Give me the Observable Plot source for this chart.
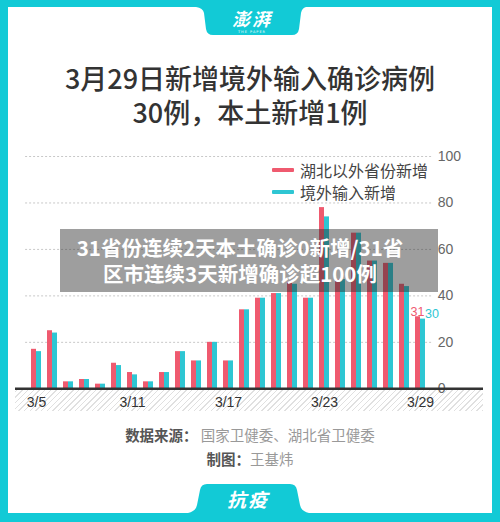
<!DOCTYPE html>
<html>
<head>
<meta charset="utf-8">
<script src="https://cdn.jsdelivr.net/npm/d3@7"></script>
<script src="https://cdn.jsdelivr.net/npm/@observablehq/plot@0.6"></script>
<style>
  html, body { margin: 0; padding: 0; }
  body { width: 500px; height: 522px; overflow: hidden; font-family: "Noto Sans CJK SC", "Noto Sans", sans-serif; }
  #page { position: relative; width: 500px; height: 522px; background: #12cad6; }
  #card { position: absolute; left: 8px; top: 7px; width: 484px; height: 506px; background: #fff; }
  .abs { position: absolute; }
  .title { left: 0; width: 500px; text-align: center; font-size: 27px; line-height: 30px; height: 30px; color: #333; font-weight: 500; white-space: nowrap; }
  #title1 { top: 63px; }
  #title2 { top: 97px; }
  #legend { left: 272px; top: 159px; font-size: 16px; color: #444; }
  #legend .row { display: flex; align-items: center; height: 21.7px; }
  #legend .sw { width: 22px; height: 4px; margin-right: 6px; border-radius: 1px; }
  #hatch { left: 15px; top: 389px; width: 468px; height: 22px;
    background: repeating-linear-gradient(-45deg, #e0e0e0 0 1px, #fff 1px 4px); }
  #chart { position: absolute; left: 15px; top: 140px; }
  #chart svg { overflow: visible; }
  #chart g[aria-label^="y-axis"] text { fill: #666; font-size: 14px; }
  #chart g[aria-label^="x-axis"] text { fill: #333; font-size: 14px; }
  #band { left: 60px; top: 229px; width: 378px; height: 63px; background: rgba(40,40,40,0.45); }
  .bandText { left: 55px; width: 370px; text-align: center; color: #fff; font-weight: 700; font-size: 20.5px; line-height: 24px; height: 24px; white-space: nowrap; }
  #band1 { top: 234.7px; }
  #band2 { top: 261.2px; }
  #source { left: 0; width: 500px; top: 425px; text-align: center; font-size: 14.5px; line-height: 20px; color: #999; }
  #credit { left: 0; width: 500px; top: 449px; text-align: center; font-size: 14.5px; line-height: 20px; color: #999; }
  b { color: #555; font-weight: 700; }
  #logo { left: 200px; width: 104px; top: 9px; text-align: center; color: #fff; font-size: 18px; font-weight: 700; font-style: italic; line-height: 18px; height: 18px; letter-spacing: 2px; }
  #logoSub { left: 200px; width: 104px; top: 29.5px; text-align: center; color: #fff; font-size: 3.5px; line-height: 4px; letter-spacing: 1px; font-family: "DejaVu Sans"; }
  #tag { left: 198px; width: 100px; top: 487px; text-align: center; color: #fff; font-size: 19px; font-weight: 700; font-style: italic; line-height: 24px; letter-spacing: 2px; }
</style>
</head>
<body>
<div id="page">
  <div id="card"></div>
  <svg class="abs" style="left:0;top:0" width="500" height="522">
    <path d="M196,7 L306,7 Q302,8 301,13 L299,29 Q298,35 292,35 L213,35 Q207,35 206,29 L204,13 Q203,8 196,7 Z" fill="#12cad6"/>
    <path d="M188,513 Q196,511 197,505 L200,490 Q201,484 207,484 L290,484 Q296,484 297,490 L300,505 Q301,511 309,513 Z" fill="#12cad6"/>
  </svg>
  <div id="logo" class="abs">澎湃</div>
  <div id="logoSub" class="abs">THE PAPER</div>
  <div id="title1" class="abs title">3月29日新增境外输入确诊病例</div>
  <div id="title2" class="abs title">30例，本土新增1例</div>
  <div id="hatch" class="abs"></div>
  <div id="chart"></div>
  <div id="legend" class="abs"></div>
  <div id="band" class="abs"></div>
  <div id="band1" class="abs bandText">31省份连续2天本土确诊0新增/31省</div>
  <div id="band2" class="abs bandText">区市连续3天新增确诊超100例</div>
  <div id="source" class="abs"><b>数据来源：</b> 国家卫健委、湖北省卫健委</div>
  <div id="credit" class="abs"><b>制图：</b>王基炜</div>
  <div id="tag" class="abs">抗疫</div>
</div>
<script>
// ---- data ----
const dates = ["3/5","3/6","3/7","3/8","3/9","3/10","3/11","3/12","3/13","3/14","3/15","3/16","3/17",
               "3/18","3/19","3/20","3/21","3/22","3/23","3/24","3/25","3/26","3/27","3/28","3/29"];
const outsideHubei = [17,25,3,4,2,11,7,3,7,16,12,20,12,34,39,41,46,39,78,47,67,55,54,45,31];
const imported     = [16,24,3,4,2,10,6,3,7,16,12,20,12,34,39,41,45,39,74,47,67,55,54,44,30];
const seriesNames = ["湖北以外省份新增", "境外输入新增"];
const xTicks = ["3/5","3/11","3/17","3/23","3/29"];
const yTicks = [0,20,40,60,80,100];

const RED = "#ef5a6f";
const CYAN = "#2ec6d3";

const rows = dates.map((d, i) => ({date: d, a: outsideHubei[i], b: imported[i]}));
const last = rows.slice(-1);

const chart = Plot.plot({
  width: 468,
  height: 272,
  marginLeft: 7.1,
  marginRight: 49.7,
  marginTop: 16,
  marginBottom: 23.7,
  style: {background: "transparent", fontFamily: "'Liberation Sans', 'Noto Sans', sans-serif", fontSize: "14px", color: "#333", overflow: "visible"},
  x: {domain: dates, padding: 0.38, ticks: xTicks, tickSize: 0, tickPadding: 8, label: null},
  y: {domain: [0, 100], ticks: yTicks, axis: "right", tickSize: 0, tickPadding: 4, label: null},
  marks: [
    Plot.ruleY(yTicks.filter(v => v > 0), {stroke: "#c8c8c8", strokeDasharray: "2,2", insetLeft: 3, insetRight: 1}),
    Plot.barY(rows, {x: "date", y: "a", fill: RED, insetRight: 5}),
    Plot.barY(rows, {x: "date", y: "b", fill: CYAN, insetLeft: 5}),
    Plot.ruleY([0], {stroke: "#333", strokeWidth: 2.5, insetLeft: -7.1, insetRight: -49.7}),
    Plot.text(last, {x: "date", y: "a", text: d => String(d.a), fill: RED, dx: -3, dy: -1, lineAnchor: "bottom", fontSize: 12.5}),
    Plot.text(last, {x: "date", y: "b", text: d => String(d.b), fill: CYAN, dx: 11.5, dy: -1, lineAnchor: "bottom", fontSize: 12.5})
  ]
});
document.getElementById("chart").appendChild(chart);

const legend = document.getElementById("legend");
[[seriesNames[0], RED], [seriesNames[1], CYAN]].forEach(([name, color]) => {
  const row = document.createElement("div");
  row.className = "row";
  const sw = document.createElement("span");
  sw.className = "sw";
  sw.style.background = color;
  const t = document.createElement("span");
  t.textContent = name;
  row.appendChild(sw);
  row.appendChild(t);
  legend.appendChild(row);
});
</script>
</body>
</html>
